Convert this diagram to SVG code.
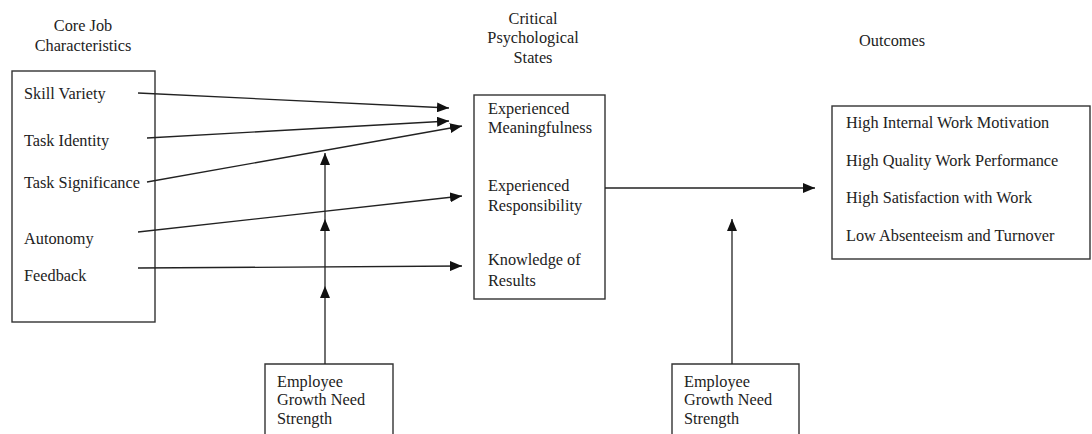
<svg xmlns="http://www.w3.org/2000/svg" width="1092" height="434" viewBox="0 0 1092 434">
<style>
text{font-family:"Liberation Serif","Times New Roman",serif;font-size:16.3px;fill:#222}
.c{text-anchor:middle}
.box{fill:#fff;stroke:#333;stroke-width:1.4}
.ln{stroke:#222;stroke-width:1.3;fill:none}
</style>
<defs>
<marker id="ah" markerUnits="userSpaceOnUse" markerWidth="12" markerHeight="10" viewBox="0 0 12 10" refX="12" refY="5" orient="auto">
<path d="M0,0 L12,5 L0,10 Z" fill="#111"/>
</marker>
</defs>
<g id="headers">
<text class="c" x="83" y="31">Core Job</text>
<text class="c" x="83" y="51">Characteristics</text>
<text class="c" x="533" y="24">Critical</text>
<text class="c" x="533" y="43">Psychological</text>
<text class="c" x="533" y="63">States</text>
<text class="c" x="892" y="46">Outcomes</text>
</g>
<g id="core">
<rect class="box" x="12" y="71" width="143" height="251"/>
<text x="24" y="99">Skill Variety</text>
<text x="24" y="146">Task Identity</text>
<text x="24" y="188">Task Significance</text>
<text x="24" y="244">Autonomy</text>
<text x="24" y="281">Feedback</text>
</g>
<g id="states">
<rect class="box" x="474" y="95" width="131" height="204"/>
<text x="488" y="114">Experienced</text>
<text x="488" y="133">Meaningfulness</text>
<text x="488" y="191">Experienced</text>
<text x="488" y="211">Responsibility</text>
<text x="488" y="265">Knowledge of</text>
<text x="488" y="286">Results</text>
</g>
<g id="outcomes">
<rect class="box" x="832" y="106" width="258" height="153"/>
<text x="846" y="128">High Internal Work Motivation</text>
<text x="846" y="166">High Quality Work Performance</text>
<text x="846" y="203">High Satisfaction with Work</text>
<text x="846" y="241">Low Absenteeism and Turnover</text>
</g>
<g id="gns1">
<path class="box" d="M265,436 V364 H393 V436"/>
<text x="277" y="387">Employee</text>
<text x="277" y="405">Growth Need</text>
<text x="277" y="424">Strength</text>
</g>
<g id="gns2">
<path class="box" d="M672,436 V364 H799 V436"/>
<text x="684" y="387">Employee</text>
<text x="684" y="405">Growth Need</text>
<text x="684" y="424">Strength</text>
</g>
<g id="connectors">
<line class="ln" x1="138" y1="93" x2="449" y2="108" marker-end="url(#ah)"/>
<line class="ln" x1="147" y1="138" x2="449" y2="121" marker-end="url(#ah)"/>
<line class="ln" x1="147" y1="182" x2="462" y2="126" marker-end="url(#ah)"/>
<line class="ln" x1="138" y1="232" x2="462" y2="196" marker-end="url(#ah)"/>
<line class="ln" x1="138" y1="268" x2="462" y2="266" marker-end="url(#ah)"/>
<line class="ln" x1="325" y1="364" x2="325" y2="286" marker-end="url(#ah)"/>
<line class="ln" x1="325" y1="286" x2="325" y2="219" marker-end="url(#ah)"/>
<line class="ln" x1="325" y1="219" x2="325" y2="153" marker-end="url(#ah)"/>
<line class="ln" x1="605" y1="188" x2="815" y2="188" marker-end="url(#ah)"/>
<line class="ln" x1="732" y1="364" x2="732" y2="219" marker-end="url(#ah)"/>
</g>
</svg>
